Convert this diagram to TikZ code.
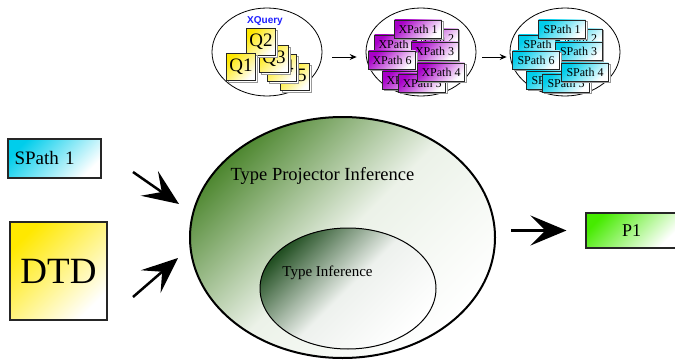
\documentclass[tikz,border=0pt]{standalone}
\usepackage{fontspec}
\setmainfont{Liberation Serif}
\newfontfamily\labelsans{Liberation Sans}
\usetikzlibrary{shapes.geometric,shadows,arrows.meta}

\definecolor{leafgreen}{RGB}{78,135,48}
\definecolor{pinegreen}{RGB}{35,80,35}
\definecolor{limegreen}{RGB}{70,235,0}
\definecolor{qyellow}{RGB}{255,232,0}
\definecolor{xpurple}{RGB}{168,0,200}
\definecolor{scyan}{RGB}{0,205,235}
\definecolor{xqblue}{RGB}{30,30,255}

\begin{document}
\begin{tikzpicture}[x=1pt,y=-1pt,
  card/.style={rectangle, draw=black!85, line width=0.7pt, inner sep=0pt,
    top color=#1, bottom color=white, shading angle=45,
    general shadow={shadow xshift=1.6pt, shadow yshift=-1.6pt, fill=white, draw=gray!80, line width=0.6pt}},
  qcard/.style={card=qyellow, minimum width=29pt, minimum height=27pt, font=\fontsize{19}{19}\selectfont},
  xcard/.style={card=xpurple, minimum width=47pt, minimum height=18pt, font=\fontsize{12}{12}\selectfont},
  scard/.style={card=scyan, minimum width=47pt, minimum height=18pt, font=\fontsize{12}{12}\selectfont},
  set/.style={ellipse, draw, line width=0.8pt, fill=white, minimum width=110pt, minimum height=88pt},
  inbox/.style={rectangle, draw=black!85, line width=1.1pt, inner sep=0pt,
    top color=#1, bottom color=white, shading angle=45},
  flow/.style={line width=0.8pt, -{Stealth[length=7pt,width=6pt,inset=2.5pt]}},
  bigarrow/.style={line width=2.5pt, -{Stealth[length=36pt,width=30pt,inset=15pt]}}]
\useasboundingbox (0,0) rectangle (675,361);

% the three query sets
\node[set] (xq) at (267,52) {};
\node[set] (xp) at (421,52) {};
\node[set] (sp) at (565,52) {};
\node[text=xqblue, font=\labelsans\bfseries\fontsize{10}{10}\selectfont] (xqlabel) at (265,21) {XQuery};

\node[qcard] (q5) at (295,77) {Q5};
\node[qcard] (q4) at (282,68) {Q4};
\node[qcard] (q3) at (274,59) {Q3};
\node[qcard] (q2) at (261,42) {Q2};
\node[qcard] (q1) at (241,67) {Q1};

\node[xcard] (xp2) at (434.5,38) {XPath 2};
\node[xcard] (xp7) at (398,44) {XPath 7};
\node[xcard] (xp3) at (434.5,51) {XPath 3};
\node[xcard] (xp1) at (418,29) {XPath 1};
\node[xcard] (xp6) at (392,60) {XPath 6};
\node[xcard] (xp8) at (406,80) {XPath 8};
\node[xcard] (xp5) at (422,83) {XPath 5};
\node[xcard] (xp4) at (441,72) {XPath 4};

\node[scard] (sp2) at (578.5,38) {SPath 2};
\node[scard] (sp7) at (542,44) {SPath 7};
\node[scard] (sp3) at (578.5,51) {SPath 3};
\node[scard] (sp1) at (562,29) {SPath 1};
\node[scard] (sp6) at (536,60) {SPath 6};
\node[scard] (sp8) at (550,80) {SPath 8};
\node[scard] (sp5) at (566,83) {SPath 5};
\node[scard] (sp4) at (585,72) {SPath 4};

\draw[flow, shorten <=10pt, shorten >=9pt] ([yshift=-5pt]xq.east) -- ([yshift=-5pt]xp.west);
\draw[flow, shorten <=6pt, shorten >=3pt] ([yshift=-5pt]xp.east) -- ([yshift=-5pt]sp.west);

% inputs
\node[inbox=scyan, minimum height=39pt, text width=80pt, inner xsep=6.5pt, align=left,
  font=\fontsize{19}{19}\selectfont] (spath) at (54.5,158.5) {SPath 1};
\node[inbox=qyellow, minimum width=97pt, minimum height=98pt,
  font=\fontsize{37}{37}\selectfont] (dtd) at (58.5,271) {DTD};

% inference sets
\node[ellipse, draw, line width=2pt, minimum width=305pt, minimum height=241pt,
  top color=leafgreen, bottom color=white, middle color=leafgreen!11!white, shading angle=45] (tpi) at (342.5,237.5) {};
\node[ellipse, draw, line width=1pt, minimum width=176pt, minimum height=121pt,
  top color=pinegreen, bottom color=white, middle color=pinegreen!8!white, shading angle=45] (ti) at (348,288.5) {};
\node[font=\fontsize{18.5}{18.5}\selectfont] (tpilabel) at (322.5,175.5) {Type Projector Inference};
\node[font=\fontsize{15}{15}\selectfont] (tilabel) at (327.5,273) {Type Inference};

% output
\node[inbox=limegreen, minimum width=91pt, minimum height=35pt,
  font=\fontsize{18}{18}\selectfont] (p1) at (631.5,230.5) {P1};

\coordinate (in1) at (133,172);
\coordinate (in1tip) at (179,204);
\coordinate (in2) at (133,297);
\coordinate (in2tip) at (178,258);
\draw[bigarrow] (in1) -- (in1tip);
\draw[bigarrow] (in2) -- (in2tip);
\draw[bigarrow, shorten <=15pt, shorten >=19pt] (tpi.east |- p1.west) -- (p1.west);
\end{tikzpicture}
\end{document}
